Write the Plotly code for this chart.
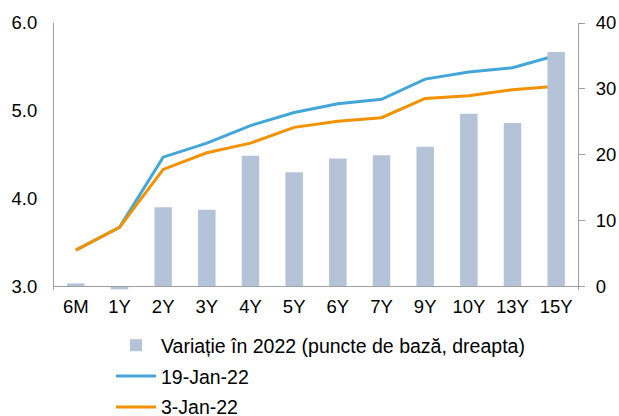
import plotly.graph_objects as go

categories = ["6M", "1Y", "2Y", "3Y", "4Y", "5Y", "6Y", "7Y", "9Y", "10Y", "13Y", "15Y"]
variatie_bp = [0.4, -0.5, 12.0, 11.6, 19.8, 17.3, 19.4, 19.9, 21.2, 26.2, 24.8, 35.6]
yield_19jan = [3.41, 3.67, 4.47, 4.63, 4.83, 4.98, 5.08, 5.13, 5.36, 5.44, 5.49, 5.63]
yield_3jan = [3.41, 3.67, 4.33, 4.52, 4.63, 4.81, 4.88, 4.92, 5.14, 5.17, 5.24, 5.28]

left_ticks = [3.0, 4.0, 5.0, 6.0]
right_ticks = [0, 10, 20, 30, 40]

font = "Arial, Liberation Sans, sans-serif"

W, H = 619, 416
plot_top_px, plot_bottom_px = 23, 290
m_l = 54
m_r = W - 578
plot_h = plot_bottom_px - plot_top_px
plot_w = W - m_l - m_r

# small negative headroom so the slightly negative bar shows below the axis line
r2_min, r2_max = -0.6, 40.0
l_min = 3.0 + r2_min * 3.0 / 40.0
axis_pos = -r2_min / (r2_max - r2_min)

legend_top_px = 326
legend_left_px = 111

fig = go.Figure()
fig.add_trace(go.Bar(
    x=categories, y=variatie_bp, yaxis="y2",
    name="Variație în 2022 (puncte de bază, dreapta)",
    marker=dict(color="#B4C3D8", line=dict(width=0)),
    width=0.4, legendgroup="a",
))
fig.add_trace(go.Scatter(
    x=categories, y=yield_19jan, mode="lines", name="19-Jan-22",
    line=dict(color="#42A6D9", width=3), legendgroup="b",
))
fig.add_trace(go.Scatter(
    x=categories, y=yield_3jan, mode="lines", name="3-Jan-22",
    line=dict(color="#F39200", width=3), legendgroup="c",
))

fig.update_layout(
    width=W, height=H,
    margin=dict(l=m_l, r=m_r, t=plot_top_px, b=H - plot_bottom_px, autoexpand=False),
    paper_bgcolor="white", plot_bgcolor="white",
    font=dict(family=font, size=18.5, color="#000000"),
    showlegend=True,
    legend=dict(
        x=(legend_left_px - m_l) / plot_w, y=(plot_bottom_px - legend_top_px) / plot_h,
        xanchor="left", yanchor="top",
        orientation="v", traceorder="grouped", tracegroupgap=2.5,
        font=dict(size=19.5), itemwidth=40, bgcolor="rgba(0,0,0,0)",
    ),
    xaxis=dict(
        type="category", showgrid=False, showline=True,
        linecolor="#A0A0A0", linewidth=1, ticks="",
        anchor="free", position=axis_pos,
        tickfont=dict(size=18.5), range=[-0.5, 11.5],
        ticklabelstandoff=4, automargin=False,
    ),
    yaxis=dict(
        range=[l_min, 6.0], tickvals=left_ticks,
        ticktext=[f"{v:.1f}" for v in left_ticks],
        showgrid=False, showline=True, linecolor="#A0A0A0", linewidth=1,
        ticks="", zeroline=False, tickfont=dict(size=18.5),
        ticklabelstandoff=12, automargin=False,
    ),
    yaxis2=dict(
        range=[r2_min, r2_max], tickvals=right_ticks, overlaying="y", side="right",
        showgrid=False, showline=True, linecolor="#A0A0A0", linewidth=1,
        ticks="outside", ticklen=6, tickcolor="#A0A0A0",
        zeroline=False, tickfont=dict(size=18.5),
        ticklabelstandoff=7, automargin=False,
    ),
)

fig.write_html(
    "out.html",
    config={"displayModeBar": False},
    post_script="document.body.style.margin='0';document.body.style.overflow='hidden';",
)
